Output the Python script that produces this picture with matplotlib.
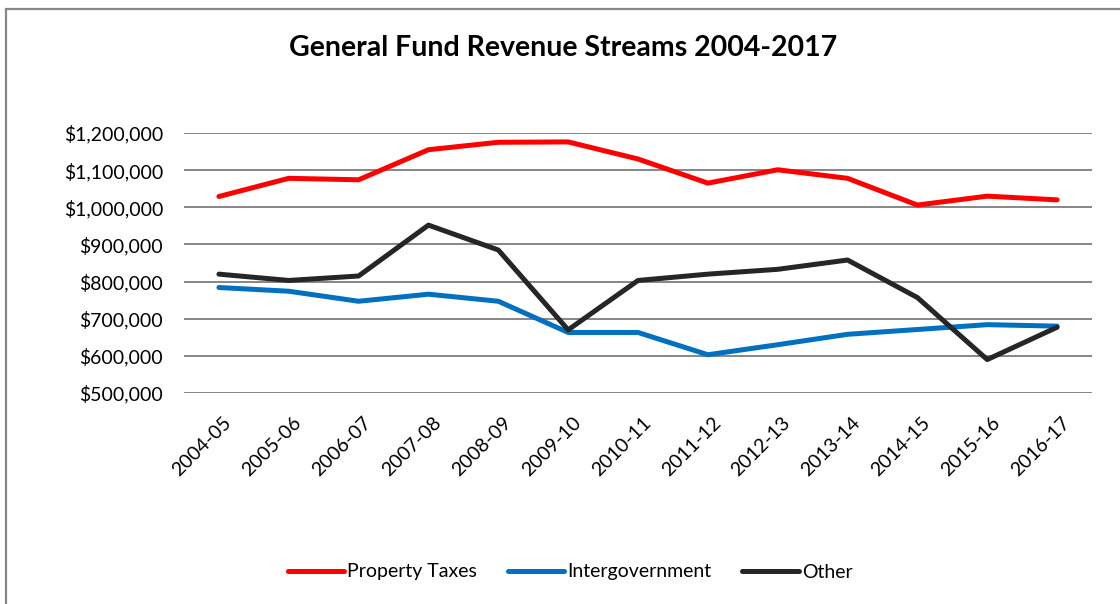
import matplotlib.pyplot as plt
import matplotlib.patches as patches
import matplotlib.transforms as mtransforms
import numpy as np

plt.rcParams['font.family'] = ['Lato', 'DejaVu Sans']

years = ['2004-05', '2005-06', '2006-07', '2007-08', '2008-09', '2009-10', '2010-11',
         '2011-12', '2012-13', '2013-14', '2014-15', '2015-16', '2016-17']

property_taxes = [1029000, 1078000, 1074000, 1155000, 1175000, 1176000, 1130000,
                  1065000, 1101000, 1078000, 1006000, 1030000, 1020000]
intergovernment = [784000, 774000, 747000, 766000, 747000, 663000, 663000,
                   603000, 630000, 658000, 671000, 684000, 680000]
other = [820000, 803000, 815000, 952000, 885000, 670000, 803000,
         820000, 833000, 858000, 757000, 590000, 677000]

fig = plt.figure(figsize=(11.2, 6.04), dpi=100)
ax = fig.add_axes([184 / 1120, 1 - 393 / 604, (1092 - 184) / 1120, (393 - 133) / 604])

x = np.arange(len(years))
ax.plot(x, property_taxes, color='#ff0000', lw=3.6, solid_capstyle='round', solid_joinstyle='round', label='Property Taxes')
ax.plot(x, intergovernment, color='#0070c0', lw=3.6, solid_capstyle='round', solid_joinstyle='round', label='Intergovernment')
ax.plot(x, other, color='#262626', lw=3.6, solid_capstyle='round', solid_joinstyle='round', label='Other')

ax.set_xlim(-0.5, len(years) - 0.5)
ax.set_ylim(500000, 1200000)
ax.set_yticks(np.arange(500000, 1200001, 100000))
ax.set_yticklabels(['${:,.0f}'.format(v) for v in np.arange(500000, 1200001, 100000)], fontsize=14)
ax.set_xticks(x)
ax.set_xticklabels(years, rotation=45, ha='right', va='top', rotation_mode='anchor', fontsize=14)
ax.tick_params(axis='x', length=0, pad=15)
ax.tick_params(axis='y', length=0, pad=15)
# nudge the slanted year labels a little to the right
shift = mtransforms.ScaledTranslation(4 / 100, 0, fig.dpi_scale_trans)
for lab in ax.get_xticklabels():
    lab.set_transform(lab.get_transform() + shift)
ax.grid(axis='y', color='#868686', lw=1.4)
ax.set_axisbelow(True)
for s in ax.spines.values():
    s.set_visible(False)

fig.text(563 / 1120, 1 - 48 / 604, 'General Fund Revenue Streams 2004-2017',
         fontsize=20.5, fontweight='bold', ha='center', va='center')

fig.legend(loc='center', bbox_to_anchor=(570 / 1120, 1 - 572 / 604), ncol=3, frameon=False,
           fontsize=14, handlelength=2.9, handletextpad=0.15, columnspacing=1.6)

# chart frame
fig.patches.append(patches.Rectangle((6 / 1120, -0.1), 1.2, 1 - 9 / 604 + 0.1, transform=fig.transFigure,
                                     fill=False, edgecolor='#868686', lw=1.6))

fig.savefig('out.png', dpi=100)
